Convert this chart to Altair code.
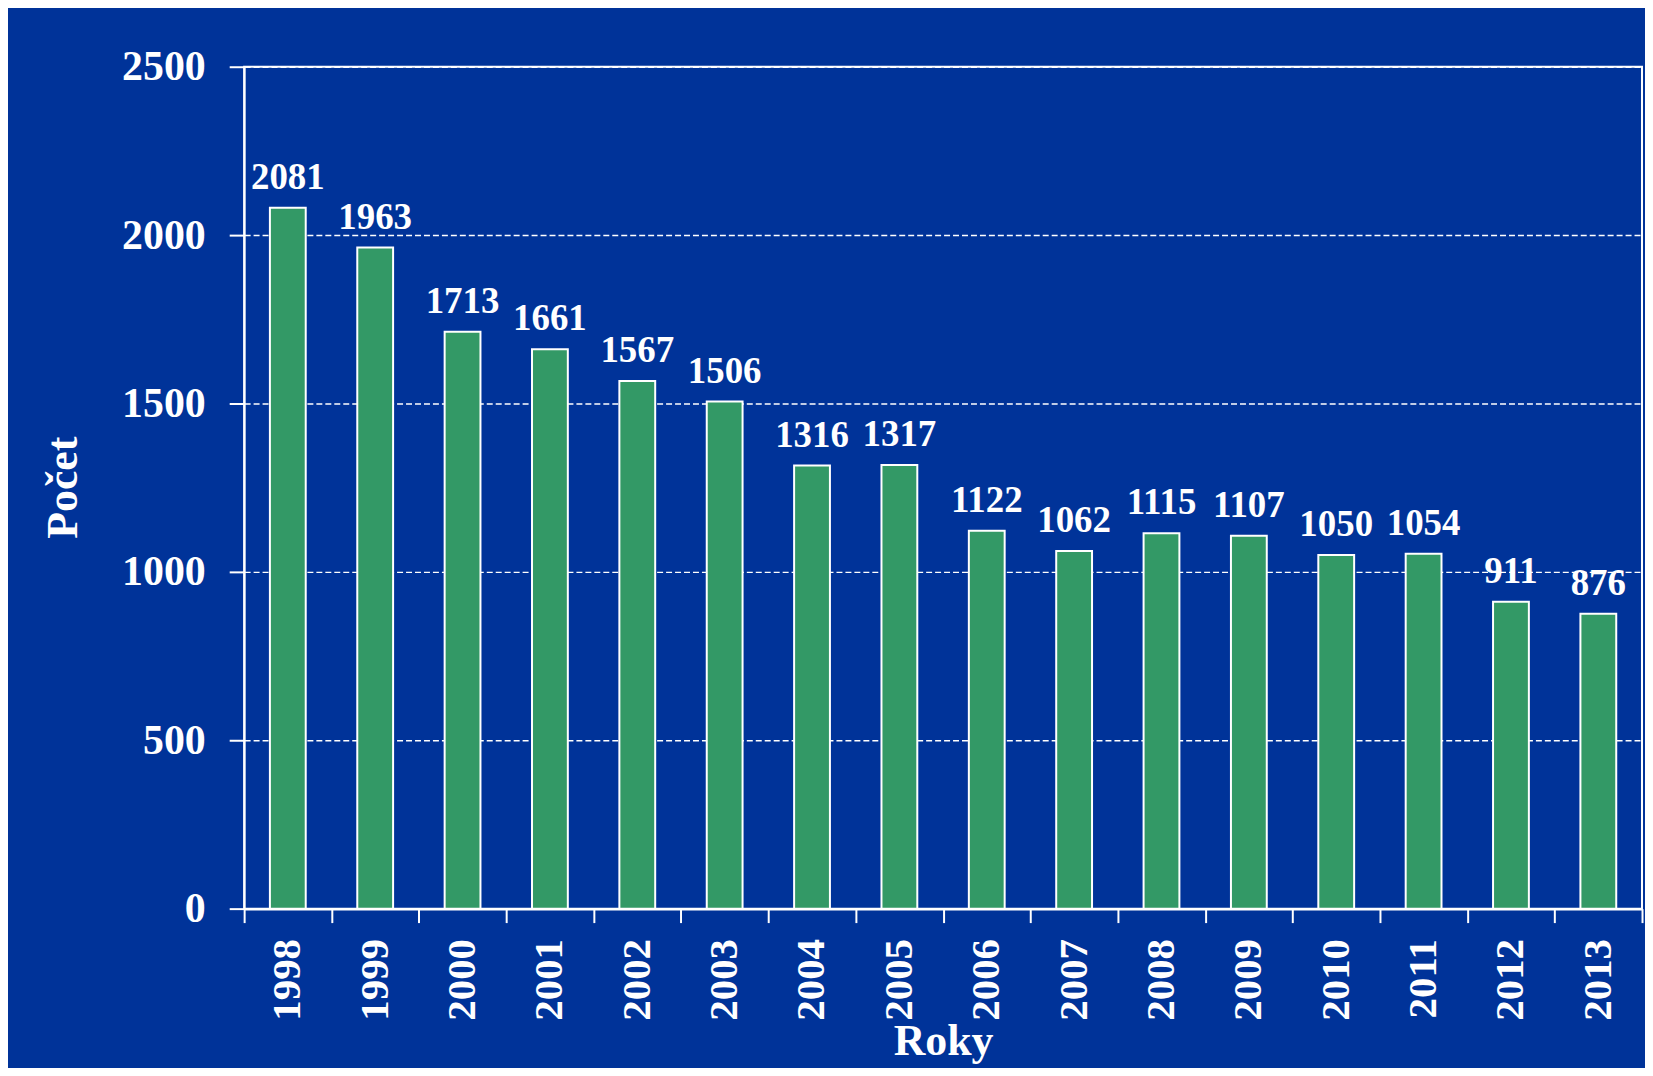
import altair as alt
import pandas as pd

# ---- data ----
years = ["1998", "1999", "2000", "2001", "2002", "2003", "2004", "2005",
         "2006", "2007", "2008", "2009", "2010", "2011", "2012", "2013"]
counts = [2081, 1963, 1713, 1661, 1567, 1506, 1316, 1317,
          1122, 1062, 1115, 1107, 1050, 1054, 911, 876]
y_ticks = [0, 500, 1000, 1500, 2000, 2500]

df = pd.DataFrame({"rok": years, "pocet": counts})

FONT = "Liberation Serif"
WHITE = "#ffffff"

base = alt.Chart(df).encode(
    x=alt.X(
        "rok:N",
        sort=years,
        scale=alt.Scale(paddingInner=0, paddingOuter=0),
        axis=alt.Axis(
            title="Roky",
            labelAngle=-90,
            tickBand="extent",
            grid=False,
            domainColor=WHITE,
            domainWidth=2.5,
            tickColor=WHITE,
            tickWidth=2,
            tickSize=14,
            labelPadding=16,
            labelColor=WHITE,
            labelFont=FONT,
            labelFontSize=41,
            labelFontWeight="bold",
            titleColor=WHITE,
            titleFont=FONT,
            titleFontSize=44,
            titleFontWeight="bold",
            titleBaseline="alphabetic",
            titleY=146,
        ),
    ),
    y=alt.Y(
        "pocet:Q",
        scale=alt.Scale(domain=[0, 2500], nice=False),
        axis=alt.Axis(
            title="Počet",
            values=y_ticks,
            format="d",
            grid=True,
            gridColor=WHITE,
            gridDash=[6, 3],
            gridWidth=1.5,
            gridOpacity=1,
            domainColor=WHITE,
            domainWidth=2,
            tickColor=WHITE,
            tickWidth=2,
            tickSize=15,
            labelPadding=24,
            labelColor=WHITE,
            labelFont=FONT,
            labelFontSize=42,
            labelFontWeight="bold",
            titleColor=WHITE,
            titleFont=FONT,
            titleFontSize=44,
            titleFontWeight="bold",
            titleAngle=-90,
            titleBaseline="alphabetic",
            titleAlign="center",
            titleX=-168,
            titleY=422,
        ),
    ),
)

bars = base.mark_bar(
    width=alt.RelativeBandSize(0.41),
    color="#339966",
    stroke=WHITE,
    strokeWidth=2,
)

labels = base.mark_text(
    baseline="alphabetic",
    dy=-19,
    font=FONT,
    fontSize=37,
    fontWeight="bold",
    color=WHITE,
).encode(text=alt.Text("pocet:Q", format="d"))

chart = (
    (bars + labels)
    .properties(
        width=1403,
        height=845,
        background="#003399",
        padding={"left": 237, "top": 57, "right": 3, "bottom": 158},
        autosize=alt.AutoSizeParams(type="none"),
    )
    .configure_view(stroke=WHITE, strokeWidth=2)
)

chart.save("out.html", embed_options={"renderer": "svg", "actions": False})
